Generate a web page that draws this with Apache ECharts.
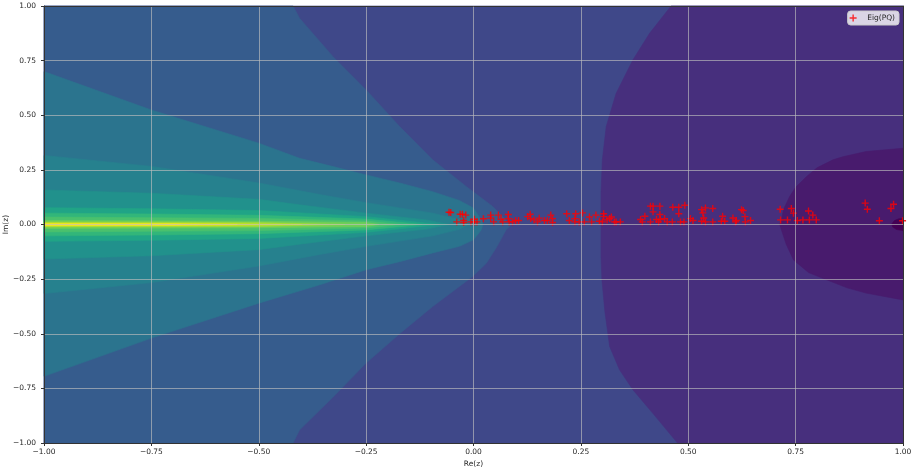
<!DOCTYPE html>
<html>
<head>
<meta charset="utf-8">
<script src="https://cdn.jsdelivr.net/npm/echarts@6/dist/echarts.min.js"></script>
<style>
  html, body { margin: 0; padding: 0; background: #ffffff; }
  #chart { width: 911px; height: 468px; }
</style>
</head>
<body>
<div id="chart"></div>
<script>
// Eigenvalues of PQ in the complex plane (real and imaginary parts)
const eigRe = [
  -0.057, -0.053, -0.031, -0.026, -0.018, -0.039, -0.023, -0.023, -0.006, 0.002,
  0.002, 0.008, 0.023, 0.040, 0.040, 0.047, 0.058, 0.064, 0.068, 0.081,
  0.081, 0.083, 0.091, 0.098, 0.105, 0.126, 0.132, 0.133, 0.141, 0.149,
  0.153, 0.165, 0.172, 0.180, 0.184, 0.184, 0.217, 0.223, 0.236, 0.238,
  0.236, 0.246, 0.254, 0.258, 0.270, 0.275, 0.285, 0.293, 0.300, 0.303,
  0.303, 0.311, 0.317, 0.321, 0.328, 0.332, 0.342, 0.389, 0.393, 0.399,
  0.412, 0.418, 0.418, 0.434, 0.426, 0.434, 0.435, 0.431, 0.412, 0.445,
  0.451, 0.464, 0.463, 0.478, 0.478, 0.482, 0.492, 0.490, 0.505, 0.511,
  0.531, 0.534, 0.540, 0.536, 0.540, 0.531, 0.557, 0.557, 0.580, 0.577,
  0.585, 0.604, 0.612, 0.610, 0.624, 0.628, 0.632, 0.633, 0.645, 0.714,
  0.715, 0.731, 0.740, 0.745, 0.754, 0.767, 0.780, 0.790, 0.782, 0.798,
  0.912, 0.917, 0.945, 0.972, 0.978, 0.999
];
const eigIm = [
  0.056, 0.055, 0.047, 0.047, 0.043, 0.012, 0.018, 0.009, 0.012, 0.024,
  0.012, 0.012, 0.026, 0.043, 0.029, 0.012, 0.043, 0.024, 0.012, 0.046,
  0.027, 0.012, 0.012, 0.018, 0.018, 0.036, 0.047, 0.027, 0.021, 0.012,
  0.029, 0.018, 0.018, 0.043, 0.027, 0.009, 0.049, 0.018, 0.027, 0.049,
  0.012, 0.012, 0.053, 0.012, 0.034, 0.012, 0.043, 0.015, 0.012, 0.049,
  0.036, 0.021, 0.027, 0.034, 0.012, 0.012, 0.012, 0.023, 0.012, 0.038,
  0.084, 0.084, 0.058, 0.084, 0.023, 0.046, 0.023, 0.012, 0.012, 0.027,
  0.012, 0.079, 0.012, 0.079, 0.049, 0.012, 0.088, 0.012, 0.027, 0.018,
  0.068, 0.053, 0.076, 0.030, 0.012, 0.015, 0.073, 0.012, 0.038, 0.015,
  0.015, 0.030, 0.018, 0.012, 0.068, 0.064, 0.036, 0.012, 0.018, 0.070,
  0.021, 0.021, 0.073, 0.052, 0.018, 0.021, 0.062, 0.043, 0.021, 0.021,
  0.098, 0.070, 0.017, 0.073, 0.093, 0.017
];

// Axis ticks
const xTicks = [-1, -0.75, -0.5, -0.25, 0, 0.25, 0.5, 0.75, 1];
const yTicks = [-1, -0.75, -0.5, -0.25, 0, 0.25, 0.5, 0.75, 1];

// Filled contour regions of the level function, as outlines in (Re, Im)
const regionL3 = [[-1, -1], [1, -1], [1, 1], [-1, 1]];
const regionL2 = [
  [0.46, 1], [0.41, 0.875], [0.371, 0.753], [0.332, 0.60], [0.309, 0.448],
  [0.300, 0.296], [0.297, 0.15], [0.297, 0], [0.297, -0.15], [0.299, -0.253],
  [0.306, -0.40], [0.317, -0.558], [0.34, -0.665], [0.371, -0.756], [0.42, -0.87],
  [0.475, -1], [1, -1], [1, 1]
];
const regionL1 = [
  [1, 0.349], [0.914, 0.334], [0.86, 0.31], [0.837, 0.296], [0.80, 0.26],
  [0.775, 0.219], [0.75, 0.17], [0.736, 0.128], [0.722, 0.07], [0.717, 0.021],
  [0.713, 0], [0.717, -0.025], [0.728, -0.09], [0.745, -0.162], [0.78, -0.22],
  [0.822, -0.253], [0.87, -0.29], [0.914, -0.314], [1, -0.345]
];
const regionL0 = [
  [1, 0.028], [0.99, 0.026], [0.98, 0.018], [0.974, 0.003], [0.976, -0.012],
  [0.985, -0.023], [1, -0.028]
];
const regionL4 = [
  [-1, 1], [-0.42, 1], [-0.405, 0.944], [-0.327, 0.768], [-0.25, 0.616],
  [-0.172, 0.448], [-0.095, 0.296], [-0.017, 0.174], [0.045, 0.082], [0.076, 0.02],
  [0.086, -0.005], [0.076, -0.024], [0.055, -0.10], [0.03, -0.177], [-0.002, -0.238],
  [-0.095, -0.375], [-0.172, -0.50], [-0.25, -0.634], [-0.327, -0.79], [-0.405, -0.94],
  [-0.42, -1], [-1, -1]
];
const regionL5 = [
  [-1, 0.70], [-0.75, 0.524], [-0.5, 0.372], [-0.405, 0.303], [-0.327, 0.265],
  [-0.25, 0.227], [-0.172, 0.19], [-0.095, 0.15], [-0.033, 0.11], [0, 0.075],
  [0.018, 0.021], [0.022, 0], [0.018, -0.025], [0, -0.07], [-0.033, -0.10],
  [-0.095, -0.13], [-0.172, -0.17], [-0.25, -0.207], [-0.358, -0.276], [-0.5, -0.36],
  [-0.75, -0.52], [-1, -0.695]
];
const regionL6 = [
  [-1, 0.316], [-0.75, 0.266], [-0.5, 0.19], [-0.358, 0.137], [-0.25, 0.10],
  [-0.095, 0.052], [-0.033, 0.022], [-0.012, 0], [-0.033, -0.022], [-0.095, -0.052],
  [-0.25, -0.10], [-0.358, -0.137], [-0.5, -0.19], [-0.75, -0.266], [-1, -0.316]
];
const regionL7 = [
  [-1, 0.158], [-0.75, 0.143], [-0.5, 0.115], [-0.405, 0.09], [-0.25, 0.052],
  [-0.11, 0.021], [-0.056, 0], [-0.11, -0.021], [-0.25, -0.052], [-0.405, -0.09],
  [-0.5, -0.115], [-0.75, -0.143], [-1, -0.158]
];
const regionL8 = [
  [-1, 0.077], [-0.75, 0.072], [-0.5, 0.064], [-0.25, 0.036], [-0.079, 0],
  [-0.25, -0.036], [-0.5, -0.064], [-0.75, -0.072], [-1, -0.077]
];
const regionL9 = [
  [-1, 0.052], [-0.75, 0.048], [-0.5, 0.042], [-0.25, 0.025], [-0.12, 0],
  [-0.25, -0.025], [-0.5, -0.042], [-0.75, -0.048], [-1, -0.052]
];
const regionL10 = [
  [-1, 0.034], [-0.5, 0.028], [-0.25, 0.016], [-0.17, 0],
  [-0.25, -0.016], [-0.5, -0.028], [-1, -0.034]
];
const regionL11 = [
  [-1, 0.018], [-0.5, 0.015], [-0.25, 0.009], [-0.22, 0],
  [-0.25, -0.009], [-0.5, -0.015], [-1, -0.018]
];
const regionL12 = [[-1, 0.011], [-0.5, 0.009], [-0.3, 0], [-0.5, -0.009], [-1, -0.011]];
const regionL13 = [[-1, 0.007], [-0.6, 0.005], [-0.4, 0], [-0.6, -0.005], [-1, -0.007]];
const regionL14 = [[-1, 0.004], [-0.7, 0.003], [-0.55, 0], [-0.7, -0.003], [-1, -0.004]];

// viridis shades, one per contour level (lowest to highest)
const levelColors = [
  '#440154', '#481b6d', '#472f7d', '#3f4889', '#365c8d', '#2b748e', '#26818e',
  '#21918c', '#20a486', '#32b67a', '#4ac16d', '#6ece58', '#a0da39', '#d2e21b', '#fde725'
];

// painting order: background level first, then nested regions on top
const regionList = [
  regionL3, regionL2, regionL1, regionL0, regionL4, regionL5, regionL6, regionL7,
  regionL8, regionL9, regionL10, regionL11, regionL12, regionL13, regionL14
];
const regionLevel = [3, 2, 1, 0, 4, 5, 6, 7, 8, 9, 10, 11, 12, 13, 14];

const crossIcon = 'path://M-1,-0.2L-0.2,-0.2L-0.2,-1L0.2,-1L0.2,-0.2L1,-0.2L1,0.2L0.2,0.2L0.2,1L-0.2,1L-0.2,0.2L-1,0.2Z';

const fmt = v => (v < 0 ? '\u2212' : '') + Math.abs(v).toFixed(2);
const labelFont = { fontFamily: 'DejaVu Sans', fontSize: 7.5, color: '#262626' };

const chart = echarts.init(document.getElementById('chart'), null, { renderer: 'canvas' });

const gridLine = { show: true, lineStyle: { color: 'rgba(190,190,190,0.65)', width: 1 } };

chart.setOption({
  animation: false,
  backgroundColor: '#ffffff',
  grid: { left: 44, right: 8, top: 6, bottom: 25, containLabel: false, outerBoundsMode: 'none' },
  legend: {
    data: [{ name: 'Eig(PQ)', icon: crossIcon }],
    right: 12, top: 11,
    orient: 'vertical',
    itemWidth: 18, itemHeight: 7,
    padding: [3, 4, 3, 2],
    backgroundColor: 'rgba(255,255,255,0.8)',
    borderColor: '#cccccc', borderWidth: 1, borderRadius: 3,
    textStyle: { fontFamily: 'DejaVu Sans', fontSize: 7.5, color: '#262626' },
    z: 20
  },
  xAxis: [
    {
      type: 'value', min: -1, max: 1, interval: 0.25, z: 6,
      name: 'Re(z)', nameLocation: 'middle', nameGap: 17, nameMoveOverlap: false,
      nameTextStyle: { fontFamily: 'DejaVu Sans', fontSize: 7.5, color: '#262626' },
      axisLine: { show: true, onZero: false, lineStyle: { color: '#333', width: 1 } },
      axisTick: { show: true, length: 3, lineStyle: { color: '#333' } },
      axisLabel: Object.assign({ margin: 5, formatter: fmt,
        customValues: xTicks }, labelFont),
      splitLine: gridLine
    },
    {
      type: 'value', min: -1, max: 1, position: 'top', z: 6,
      axisLine: { show: true, onZero: false, lineStyle: { color: '#333', width: 1 } },
      axisTick: { show: false }, axisLabel: { show: false }, splitLine: { show: false }
    }
  ],
  yAxis: [
    {
      type: 'value', min: -1, max: 1, interval: 0.25, z: 6,
      name: 'Im(z)', nameLocation: 'middle', nameGap: 34, nameMoveOverlap: false,
      nameTextStyle: { fontFamily: 'DejaVu Sans', fontSize: 7.5, color: '#262626' },
      axisLine: { show: true, onZero: false, lineStyle: { color: '#333', width: 1 } },
      axisTick: { show: true, length: 3, lineStyle: { color: '#333' } },
      axisLabel: Object.assign({ margin: 8, formatter: fmt,
        customValues: yTicks }, labelFont),
      splitLine: gridLine
    },
    {
      type: 'value', min: -1, max: 1, position: 'right', z: 6,
      axisLine: { show: true, onZero: false, lineStyle: { color: '#333', width: 1 } },
      axisTick: { show: false }, axisLabel: { show: false }, splitLine: { show: false }
    }
  ],
  series: [
    {
      type: 'custom',
      name: 'levels',
      z: 1,
      silent: true,
      xAxisIndex: 0, yAxisIndex: 0,
      data: regionList.map(() => [0, 0]),
      renderItem: (params, api) => {
        const pts = regionList[params.dataIndex].map(p => api.coord(p));
        const col = levelColors[regionLevel[params.dataIndex]];
        return {
          type: 'polygon',
          z2: params.dataIndex,
          shape: { points: pts },
          style: { fill: col, stroke: col, lineWidth: 0.6 }
        };
      }
    },
    {
      type: 'scatter',
      name: 'Eig(PQ)',
      z: 3,
      xAxisIndex: 0, yAxisIndex: 0,
      symbol: crossIcon,
      symbolSize: 7,
      itemStyle: { color: '#ff0000' },
      data: eigRe.map((re, i) => [re, eigIm[i]])
    }
  ]
});
</script>
</body>
</html>
